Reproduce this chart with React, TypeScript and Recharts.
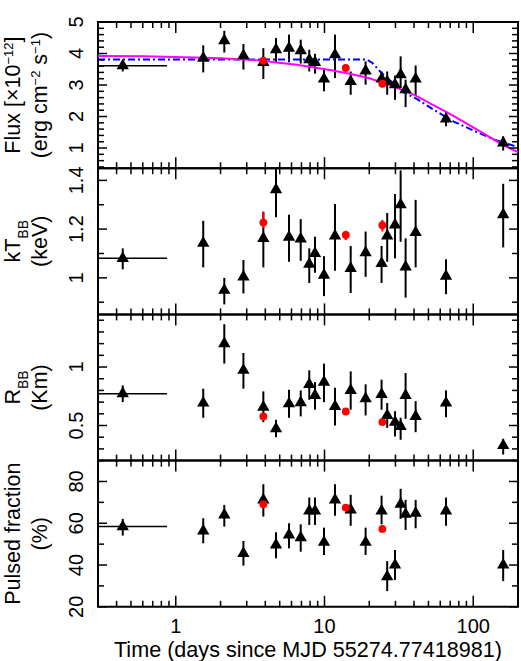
import React from 'react';
import { ComposedChart, Scatter, Line, XAxis, YAxis, ZAxis, ErrorBar, ReferenceArea } from 'recharts';

const W = 521;
const H = 661;
const PLOT_L = 98;
const PLOT_R = 518;
const PANEL_TOPS = [22, 168.2, 314.4, 460.6];
const PANEL_H = 146.2;
const FONT = '"Liberation Sans", Arial, Helvetica, sans-serif';

// observation times (days since MJD 55274.77418981)
const obsTimes = [0.44, 1.53, 2.12, 2.85, 3.88, 4.72, 5.77, 6.92, 7.9, 8.63, 9.92, 11.77, 15.0, 18.9, 24.2, 26.4, 29.8, 32.5, 35.1, 41.0, 65.6, 159];
const firstSpan = [0.3, 0.874];
const redTimes = [3.88, 13.9, 24.5];

// flux (1e-12 erg cm-2 s-1)
const fluxVal = [3.61, 3.85, 4.41, 3.93, 3.72, 4.12, 4.17, 4.09, 3.8, 3.72, 3.19, 3.96, 3.11, 3.45, 3.19, 3.11, 3.01, 3.33, 2.85, 3.19, 1.92, 1.16];
const fluxLo = [3.43, 3.4, 4.03, 3.49, 3.19, 3.7, 3.72, 3.68, 3.43, 3.36, 2.8, 3.22, 2.69, 3.01, 2.98, 2.69, 2.53, 2.9, 2.3, 2.69, 1.69, 0.92];
const fluxHi = [3.77, 4.26, 4.72, 4.3, 4.17, 4.49, 4.6, 4.44, 4.12, 3.99, 3.49, 4.6, 3.43, 3.75, 3.43, 3.43, 3.3, 3.91, 3.17, 3.62, 2.13, 1.37];
const fluxRed = [3.77, 3.54, 3.04];

// kT_BB (keV)
const ktVal = [1.08, 1.142, 0.949, 1.004, 1.162, 1.362, 1.167, 1.16, 1.056, 1.1, 1.011, 1.172, 1.039, 1.103, 1.059, 1.172, 1.217, 1.3, 1.045, 1.186, 1.007, 1.259];
const ktLo = [1.035, 1.043, 0.891, 0.936, 1.043, 1.249, 1.066, 1.07, 0.979, 1.021, 0.925, 1.029, 0.938, 1.004, 0.979, 1.066, 1.08, 1.148, 0.919, 1.043, 0.933, 1.125];
const ktHi = [1.121, 1.234, 1.0, 1.073, 1.272, 1.45, 1.259, 1.241, 1.121, 1.169, 1.089, 1.303, 1.131, 1.19, 1.131, 1.266, 1.344, 1.441, 1.162, 1.32, 1.076, 1.386];
const ktRed = [1.227, 1.176, 1.216];
const ktRedLo = [1.204, 1.155, 1.19];
const ktRedHi = [1.27, 1.193, 1.238];

// R_BB (km)
const rVal = [0.772, 0.692, 1.2, 0.972, 0.657, 0.472, 0.686, 0.695, 0.852, 0.757, 0.871, 0.663, 0.8, 0.729, 0.766, 0.586, 0.529, 0.492, 0.757, 0.578, 0.692, 0.329];
const rLo = [0.7, 0.566, 1.029, 0.815, 0.529, 0.4, 0.566, 0.578, 0.72, 0.635, 0.7, 0.5, 0.635, 0.586, 0.635, 0.48, 0.406, 0.378, 0.557, 0.443, 0.571, 0.252];
const rHi = [0.843, 0.815, 1.366, 1.12, 0.792, 0.549, 0.806, 0.8, 0.972, 0.871, 1.029, 0.823, 0.963, 0.852, 0.892, 0.692, 0.623, 0.566, 0.949, 0.709, 0.8, 0.386];
const rRed = [0.578, 0.62, 0.529];

// pulsed fraction (%)
const pfVal = [58.4, 56.3, 64.0, 45.6, 71.2, 49.6, 54.4, 53.1, 65.9, 65.9, 50.9, 71.2, 66.4, 50.9, 65.9, 34.4, 40.0, 69.1, 64.3, 64.8, 65.9, 40.0];
const pfLo = [54.1, 50.4, 58.4, 39.7, 63.2, 43.2, 48.0, 46.4, 59.2, 59.2, 44.8, 63.6, 58.8, 44.8, 59.5, 27.5, 32.8, 62.1, 56.8, 57.6, 58.8, 32.3];
const pfHi = [62.1, 62.4, 68.8, 51.5, 78.7, 55.7, 60.0, 59.5, 72.3, 72.3, 57.9, 78.7, 73.6, 57.9, 73.2, 41.9, 47.2, 76.5, 71.2, 71.2, 72.3, 47.2];
const pfRed = [69.1, 67.5, 57.3];

// model curves in the flux panel
const magentaTimes = [0.3, 0.6, 1, 2, 3.4, 5.3, 6.8, 8.9, 11.6, 15, 19.4, 25, 32.5, 42, 54, 70, 91, 118, 152, 200];
const magentaVals = [3.92, 3.91, 3.89, 3.85, 3.79, 3.69, 3.63, 3.54, 3.45, 3.35, 3.23, 3.06, 2.86, 2.64, 2.36, 2.08, 1.77, 1.46, 1.15, 0.87];
const blueTimes = [0.3, 19.2, 21, 24, 28.8, 33, 42, 54, 74, 100, 136, 200];
const blueVals = [3.81, 3.81, 3.7, 3.4, 3.07, 2.8, 2.55, 2.22, 1.84, 1.56, 1.28, 1.03];

// axes
const xTicks = [0.3, 0.4, 0.5, 0.6, 0.7, 0.8, 0.9, 1, 2, 3, 4, 5, 6, 7, 8, 9, 10, 20, 30, 40, 50, 60, 70, 80, 90, 100, 200];
const xLabels = [1, 10, 100];
const fluxTicks = [0.4, 0.6, 0.8, 1, 1.2, 1.4, 1.6, 1.8, 2, 2.2, 2.4, 2.6, 2.8, 3, 3.2, 3.4, 3.6, 3.8, 4, 4.2, 4.4, 4.6, 4.8, 5];
const fluxLabels = [1, 2, 3, 4, 5];
const ktTicks = [0.9, 1, 1.1, 1.2, 1.3, 1.4];
const ktLabels = [1, 1.2, 1.4];
const rTicks = [0.3, 0.4, 0.5, 0.6, 0.7, 0.8, 0.9, 1, 1.1, 1.2, 1.3, 1.4];
const rLabels = [0.5, 1];
const pfTicks = [20, 30, 40, 50, 60, 70, 80, 90];
const pfLabels = [20, 40, 60, 80];

const mkPoints = (val: number[], lo: number[], hi: number[]) =>
  obsTimes.map((t, i) => ({
    t,
    v: val[i],
    err: [val[i] - lo[i], hi[i] - val[i]],
    xerr: i === 0 ? [t - firstSpan[0], firstSpan[1] - t] : [0, 0],
  }));

const mkRed = (val: number[], lo?: number[], hi?: number[]) =>
  redTimes.map((t, i) => ({
    t,
    v: val[i],
    err: lo && hi ? [val[i] - lo[i], hi[i] - val[i]] : [0, 0],
  }));

const mkCurve = (ts: number[], vs: number[]) => ts.map((t, i) => ({ t, v: vs[i] }));

const near = (arr: number[], v: number) => arr.some(a => Math.abs(a - v) < 1e-6);

function YTitle({ cy, line1, line2 }: { cy: number; line1: React.ReactNode; line2: React.ReactNode }) {
  return (
    <g fontFamily={FONT} fill="#000">
      <text x={20} y={cy} transform={`rotate(-90 20 ${cy})`} textAnchor="middle" fontSize={21.5}>{line1}</text>
      <text x={47} y={cy} transform={`rotate(-90 47 ${cy})`} textAnchor="middle" fontSize={21.5}>{line2}</text>
    </g>
  );
}

function XTitle() {
  return (
    <text x={(PLOT_L + PLOT_R) / 2} y={656.5} textAnchor="middle" fontSize={21.6} fontFamily={FONT} fill="#000">
      Time (days since MJD 55274.77418981)
    </text>
  );
}

const titles = [
  {
    line1: <>Flux [×10<tspan dy={-7} fontSize={13}>−12</tspan><tspan dy={7}>]</tspan></>,
    line2: <>(erg cm<tspan dy={-7} fontSize={13}>−2</tspan><tspan dy={7}> s</tspan><tspan dy={-7} fontSize={13}>−1</tspan><tspan dy={7}>)</tspan></>,
  },
  {
    line1: <>kT<tspan dy={8} fontSize={14}>BB</tspan></>,
    line2: <>(keV)</>,
  },
  {
    line1: <>R<tspan dy={8} fontSize={14}>BB</tspan></>,
    line2: <>(Km)</>,
  },
  {
    line1: <>Pulsed fraction</>,
    line2: <>(%)</>,
  },
];

const panels = [
  { domain: [0.36, 5], ticks: fluxTicks, labels: fluxLabels, points: mkPoints(fluxVal, fluxLo, fluxHi), red: mkRed(fluxRed) },
  { domain: [0.85, 1.45], ticks: ktTicks, labels: ktLabels, points: mkPoints(ktVal, ktLo, ktHi), red: mkRed(ktRed, ktRedLo, ktRedHi) },
  { domain: [0.2, 1.45], ticks: rTicks, labels: rLabels, points: mkPoints(rVal, rLo, rHi), red: mkRed(rRed) },
  { domain: [20, 90], ticks: pfTicks, labels: pfLabels, points: mkPoints(pfVal, pfLo, pfHi), red: mkRed(pfRed) },
];

const magentaData = mkCurve(magentaTimes, magentaVals);
const blueData = mkCurve(blueTimes, blueVals);

function Panel({ idx }: { idx: number }) {
  const cfg = panels[idx];
  const top = PANEL_TOPS[idx];
  const bottom = top + PANEL_H;
  const last = idx === panels.length - 1;

  const xTick = (p: any) => {
    const v = p.payload.value;
    const x = p.x;
    const major = near(xLabels, v);
    const len = major ? 11 : 6;
    return (
      <g>
        <line x1={x} y1={bottom} x2={x} y2={bottom - len} stroke="#000" strokeWidth={1.5} />
        <line x1={x} y1={top} x2={x} y2={top + len} stroke="#000" strokeWidth={1.5} />
        {last && major && (
          <text x={x} y={633} textAnchor="middle" fontSize={20} fontFamily={FONT} fill="#000">{v}</text>
        )}
      </g>
    );
  };

  const yTick = (p: any) => {
    const v = p.payload.value;
    const y = p.y;
    const major = near(cfg.labels, v);
    const len = major ? 9 : 6;
    return (
      <g>
        <line x1={PLOT_L} y1={y} x2={PLOT_L + len} y2={y} stroke="#000" strokeWidth={1.5} />
        <line x1={PLOT_R} y1={y} x2={PLOT_R - len} y2={y} stroke="#000" strokeWidth={1.5} />
        {major && (
          <text x={83} y={y} transform={`rotate(-90 83 ${y})`} textAnchor="middle" fontSize={20} fontFamily={FONT} fill="#000">
            {String(Math.round(v * 100) / 100)}
          </text>
        )}
      </g>
    );
  };

  return (
    <div style={{ position: 'absolute', left: 0, top: 0, width: W, height: H }}>
      <ComposedChart
        width={W}
        height={H}
        margin={{ top, right: W - PLOT_R, bottom: H - bottom - 30, left: PLOT_L - 90 }}
      >
        <XAxis
          dataKey="t"
          type="number"
          scale="log"
          domain={[0.3, 200]}
          allowDataOverflow
          ticks={xTicks}
          interval={0}
          tick={xTick}
          tickLine={false}
          axisLine={false}
          height={30}
          label={last ? <XTitle /> : undefined}
        />
        <YAxis
          dataKey="v"
          type="number"
          domain={cfg.domain}
          allowDataOverflow
          ticks={cfg.ticks}
          interval={0}
          tick={yTick}
          tickLine={false}
          axisLine={false}
          width={90}
          label={<YTitle cy={top + PANEL_H / 2} line1={titles[idx].line1} line2={titles[idx].line2} />}
        />
        <ZAxis zAxisId="tri" range={[66, 66]} />
        <ZAxis zAxisId="dot" range={[48, 48]} />
        <ReferenceArea x1={0.3} x2={200} y1={cfg.domain[0]} y2={cfg.domain[1]} fill="none" fillOpacity={0} stroke="#000" strokeWidth={2} />
        <Scatter data={cfg.points} dataKey="v" zAxisId="tri" shape="triangle" fill="#000" isAnimationActive={false}>
          <ErrorBar dataKey="err" direction="y" width={0} stroke="#000" strokeWidth={2} />
          <ErrorBar dataKey="xerr" direction="x" width={0} stroke="#000" strokeWidth={1.5} />
        </Scatter>
        {idx === 0 && (
          <Line data={blueData} dataKey="v" type="linear" stroke="#0000ff" strokeWidth={2} strokeDasharray="7 3 2 3" dot={false} isAnimationActive={false} />
        )}
        {idx === 0 && (
          <Line data={magentaData} dataKey="v" type="monotone" stroke="#ff00ff" strokeWidth={2} dot={false} isAnimationActive={false} />
        )}
        <Scatter data={cfg.red} dataKey="v" zAxisId="dot" shape="circle" fill="#ff0000" isAnimationActive={false}>
          <ErrorBar dataKey="err" direction="y" width={0} stroke="#ff0000" strokeWidth={2} />
        </Scatter>
      </ComposedChart>
    </div>
  );
}

export default function App() {
  return (
    <div style={{ position: 'absolute', left: 0, top: 0, width: W, height: H, background: '#fff', fontFamily: FONT }}>
      {panels.map((_, i) => <Panel key={i} idx={i} />)}
    </div>
  );
}
